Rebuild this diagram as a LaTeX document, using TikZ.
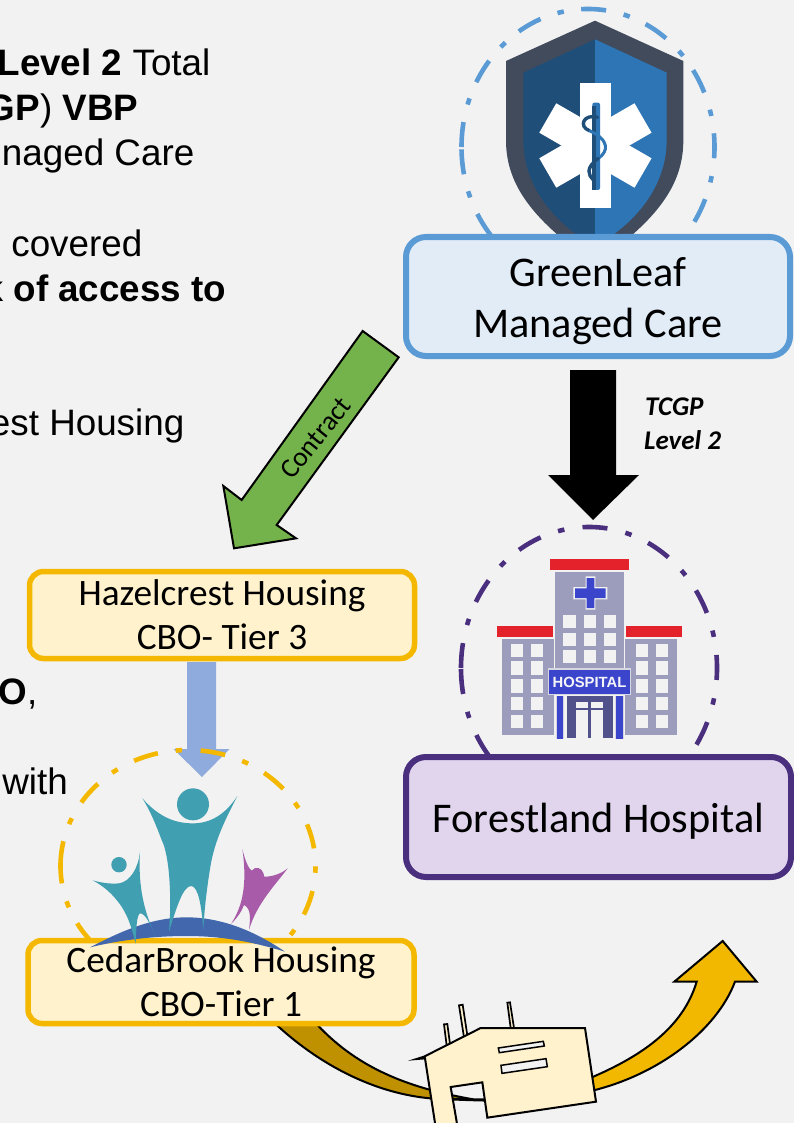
\documentclass[tikz,border=0pt]{standalone}
\usepackage{fontspec}
\setmainfont{Liberation Sans}
\newfontfamily\boxfont{Carlito}
\definecolor{pagebg}{HTML}{F2F2F2}
\definecolor{bluedge}{HTML}{5B9BD5}
\definecolor{bluefill}{HTML}{E1ECF7}
\definecolor{purpedge}{HTML}{4B2F7F}
\definecolor{purpfill}{HTML}{E1D5EE}
\definecolor{goldedge}{HTML}{F4B800}
\definecolor{goldfill}{HTML}{FFF2CC}
\definecolor{goldarrow}{HTML}{F2B800}
\definecolor{golddark}{HTML}{BF9000}
\definecolor{shieldout}{HTML}{414B5C}
\definecolor{shieldl}{HTML}{1F4E79}
\definecolor{shieldr}{HTML}{2E75B6}
\definecolor{leafgreen}{HTML}{74B34C}
\definecolor{periw}{HTML}{8FAADC}
\definecolor{teal}{HTML}{409FB0}
\definecolor{plum}{HTML}{A85BA8}
\definecolor{arcblue}{HTML}{4267AC}
\definecolor{hgray}{HTML}{9C9CBC}
\definecolor{hred}{HTML}{E3222B}
\definecolor{hblue}{HTML}{3A45CC}
\definecolor{hdoor}{HTML}{51528C}
\tikzset{
  bodytext/.style={anchor=base east,inner sep=0pt,font=\fontsize{36.8}{44}\selectfont},
  bigbox/.style={draw,line width=6pt,rounded corners=20pt,align=center,inner sep=0pt,
    font=\boxfont\fontsize{42.3}{51}\selectfont},
  tierbox/.style={draw=goldedge,fill=goldfill,line width=5.5pt,rounded corners=14pt,align=center,inner sep=0pt,
    font=\boxfont\fontsize{37.3}{44}\selectfont},
  ringline/.style={line width=4.6pt},
  blockout/.style={draw=black,line width=2pt,line join=miter},
  zoomA/.style={shift={(400,0)},x=0.33333pt,y=-0.33333pt},
  zoomB/.style={shift={(440,510)},x=0.33333pt,y=-0.33333pt},
  zoomC/.style={shift={(20,740)},x=0.33333pt,y=-0.33333pt},
  zoomD/.style={shift={(260,930)},x=0.33333pt,y=-0.33333pt},
  zoomE/.style={shift={(210,320)},x=0.33333pt,y=-0.33333pt},
  zoomF/.style={shift={(530,80)},x=0.33333pt,y=-0.33333pt},
}
\begin{document}
\begin{tikzpicture}[x=1pt,y=-1pt]
\useasboundingbox (0,0) rectangle (794,1123);
\fill[pagebg] (0,0) rectangle (794,1123);
\clip (0,0) rectangle (794,1123);

% left text
\node[bodytext] (t1) at (210.5,76) {\textbf{Level 2} Total};
\node[bodytext] (t2) at (138.5,121) {\textbf{GP}) \textbf{VBP}};
\node[bodytext] (t3) at (194.5,166) {naged Care};
\node[bodytext] (t4) at (142.5,256) {covered};
\node[bodytext] (t5) at (226.5,301) {k \textbf{of access to}};
\node[bodytext] (t6) at (184.5,435) {est Housing};
\node[bodytext] (t7) at (37.5,704) {\textbf{O},};
\node[bodytext] (t8) at (68,794) {with};

% blue ring and shield
\draw[ringline,bluedge,dash pattern=on 25pt off 18pt on 6.5pt off 17.5pt] (461.5,147) arc[start angle=180,delta angle=-360,x radius=126.5pt,y radius=138pt];
\begin{scope}[zoomA]
\fill[shieldout] (585,62) -- (850,183) -- (850,420) .. controls (850,540) and (790,650) .. (585,790)
  .. controls (380,650) and (318,540) .. (318,420) -- (318,183) -- cycle;
\fill[shieldl] (585,118) -- (370,218) -- (370,420) .. controls (370,530) and (430,650) .. (585,740) -- cycle;
\fill[shieldr] (585,118) -- (800,218) -- (800,420) .. controls (800,530) and (740,650) .. (585,740) -- cycle;
\end{scope}
\fill[white] (580,83) rectangle (611,208);
\fill[white,shift={(595.4,145.5)},rotate=60] (-17,-55) rectangle (17,55);
\fill[white,shift={(595.4,145.5)},rotate=-60] (-17,-55) rectangle (17,55);
\begin{scope}[zoomF]
\fill[shieldr,rounded corners=2pt] (187,68) rectangle (210,330);
\fill[shieldl] (187,78) rectangle (197,330);
\draw[shieldl,line width=3.4pt,line cap=round] (203,112) .. controls (160,100) and (145,140) .. (178,152);
\draw[shieldr,line width=3pt] (178,152) .. controls (240,180) and (235,215) .. (205,235);
\draw[shieldl,line width=3.4pt,line cap=round] (205,235) .. controls (165,265) and (175,285) .. (190,300);
\end{scope}

% GreenLeaf box
\node[bigbox,draw=bluedge,fill=bluefill,minimum width=384pt,minimum height=119pt] (green) at (598,296.5) {\raisebox{-15.5pt}[0pt][0pt]{GreenLeaf}\\\raisebox{-15.5pt}[0pt][0pt]{Managed Care}};

% black arrow
\fill[black] (570,370) -- (616,370) -- (616,475) -- (639,475) -- (593,520) -- (548,475) -- (570,475) -- cycle;
\node[anchor=base west,inner sep=0pt,font=\boxfont\bfseries\itshape\fontsize{27}{34}\selectfont,align=left] (tcgp) at (645,415) {TCGP};
\node[anchor=base west,inner sep=0pt,font=\boxfont\bfseries\itshape\fontsize{27}{34}\selectfont,align=left] (lvl) at (644,449) {Level 2};

% green arrow
\begin{scope}[zoomE]
\filldraw[blockout,fill=leafgreen] (458,33) -- (566,112) -- (200,615) -- (258,655) -- (72,685) -- (40,498) -- (95,540) -- cycle;
\end{scope}
\node[rotate=51,inner sep=0pt,font=\boxfont\fontsize{27.5}{34}\selectfont] (contract) at (315.5,438) {Contract};

% purple ring and hospital
\draw[ringline,purpedge,dash pattern=on 25pt off 18.5pt on 6.5pt off 18.3pt] (461,668) arc[start angle=180,delta angle=-360,x radius=128pt,y radius=141pt];
\begin{scope}[zoomB]
\fill[hred] (331,147) rectangle (566,181);
\fill[hred] (172,347) rectangle (338,381);
\fill[hred] (558,347) rectangle (726,381);
\fill[hgray] (346,187) rectangle (551,480);
\fill[hgray] (187,387) rectangle (342,676);
\fill[hgray] (556,387) rectangle (711,676);
\foreach \cx in {370,431,491} \foreach \ry in {315,369,421}
  \fill[pagebg] (\cx,\ry) rectangle ++(37,39);
\foreach \cx in {213,273,587,647} \foreach \ry in {401,454,508,561,614}
  \fill[pagebg] (\cx,\ry) rectangle ++(37,40);
\fill[pagebg] (437,199) -- (466,199) -- (466,231) -- (502,231) -- (502,268) -- (466,268) -- (466,299) -- (437,299) -- (437,268) -- (400,268) -- (400,231) -- (437,231) -- cycle;
\fill[hblue] (440,204) -- (463,204) -- (463,235) -- (497,235) -- (497,264) -- (463,264) -- (463,294) -- (440,294) -- (440,264) -- (405,264) -- (405,235) -- (440,235) -- cycle;
\fill[hgray!40] (323,474) rectangle (574,556);
\fill[hblue] (328,479) rectangle (569,551);
\fill[hgray!40] (347,557) rectangle (373,687);
\fill[hgray!40] (525,557) rectangle (551,687);
\fill[hblue] (350,558) rectangle (370,686);
\fill[hblue] (528,558) rectangle (548,686);
\fill[hdoor] (380,558) rectangle (520,683);
\fill[pagebg] (408,575) rectangle (445,595);
\fill[pagebg] (452,575) rectangle (488,595);
\fill[pagebg] (408,600) rectangle (445,683);
\fill[pagebg] (452,600) rectangle (488,683);
\end{scope}
\node[inner sep=0pt,text=white!90!hgray,font=\bfseries\fontsize{14.8}{16}\selectfont] (hosp) at (589.5,682) {HOSPITAL};
\node[bigbox,draw=purpedge,fill=purpfill,minimum width=385pt,minimum height=120pt] (forest) at (598.5,817) {\raisebox{-15pt}[0pt][0pt]{Forestland Hospital}};

% curved arrow
\begin{scope}[zoomD,line join=miter]
\filldraw[blockout,fill=goldarrow] (1388,33) -- (1490,155) -- (1425,155) .. controls (1370,300) and (1200,430) .. (1005,480)
  .. controls (860,520) and (700,515) .. (510,505) -- (640,508) .. controls (760,510) and (900,480) .. (1000,440)
  .. controls (1150,375) and (1270,290) .. (1310,155) -- (1243,155) -- cycle;
\filldraw[blockout,fill=golddark] (-30,200) .. controls (50,300) and (250,480) .. (510,505) -- (640,508)
  .. controls (420,470) and (270,400) .. (150,260) -- cycle;
\end{scope}

% boxes, left column
\node[tierbox,minimum width=385pt,minimum height=87pt] (hazel) at (222,615) {Hazelcrest Housing\\CBO- Tier 3};
\fill[periw] (187,662) -- (216,662) -- (216,749) -- (229.5,749) -- (202,777) -- (173.5,749) -- (187,749) -- cycle;
\draw[ringline,goldedge,dash pattern=on 25pt off 18pt on 6.5pt off 18.5pt] (60.5,866) arc[start angle=180,delta angle=-360,x radius=127.5pt,y radius=116pt];
\node[tierbox,minimum width=386pt,minimum height=83pt] (cedar) at (221,982) {};
\begin{scope}[zoomC]
\fill[arcblue] (210,622) .. controls (310,570) and (400,532) .. (500,532) .. controls (600,532) and (700,570) .. (795,635)
  .. controls (680,600) and (590,588) .. (500,588) .. controls (400,588) and (300,600) .. (210,622) -- cycle;
\fill[teal] (519,193) circle[radius=16pt];
\fill[teal] (367,175) .. controls (420,235) and (470,250) .. (519,250) .. controls (570,250) and (615,225) .. (652,168)
  .. controls (610,250) and (580,310) .. (568,400) .. controls (560,450) and (552,520) .. (550,570)
  .. controls (545,500) and (535,438) .. (513,438) .. controls (490,438) and (470,500) .. (447,575)
  .. controls (455,480) and (450,350) .. (425,300) .. controls (410,260) and (390,210) .. (367,175) -- cycle;
\fill[teal] (297,374) circle[radius=7.7pt];
\fill[teal] (218,421) .. controls (250,430) and (275,432) .. (297,430) .. controls (330,425) and (355,385) .. (360,335)
  .. controls (355,420) and (365,500) .. (405,585) .. controls (390,550) and (375,520) .. (360,520)
  .. controls (350,525) and (348,570) .. (347,612) .. controls (335,560) and (320,515) .. (290,480)
  .. controls (270,455) and (245,435) .. (218,421) -- cycle;
\fill[plum] (667,327) .. controls (675,360) and (685,385) .. (695,392) .. controls (705,378) and (728,380) .. (733,410)
  .. controls (760,410) and (785,400) .. (803,385) .. controls (770,430) and (710,490) .. (687,570)
  .. controls (692,530) and (692,505) .. (672,495) .. controls (665,515) and (650,535) .. (633,552)
  .. controls (660,510) and (685,450) .. (667,327) -- cycle;
\end{scope}
\node[inner sep=0pt,align=center,font=\boxfont\fontsize{37.3}{44}\selectfont] (cedartext) at (cedar.center) {CedarBrook Housing\\CBO-Tier 1};

% house shape
\begin{scope}[zoomD]
\filldraw[blockout,line width=1.7pt,fill=goldfill] (552,283) -- (562,282) -- (570,342) -- (560,347) -- cycle;
\filldraw[blockout,line width=1.7pt,fill=goldfill] (597,226) -- (608,224) -- (622,316) -- (612,322) -- cycle;
\filldraw[blockout,line width=1.7pt,fill=goldfill] (742,218) -- (750,217) -- (762,294) -- (752,294) -- cycle;
\filldraw[blockout,fill=goldfill] (470,387) -- (492,380) -- (662,294) -- (975,294) -- (1008,515) -- (682,563) -- (667,457)
  -- (572,471) -- (590,575) -- (592,600) -- (528,600) -- (525,579) -- (495,385) -- cycle;
\filldraw[blockout,fill=pagebg,line width=1.5pt] (715,354) -- (850,334) -- (853,348) -- (718,368) -- cycle;
\filldraw[blockout,fill=pagebg,line width=1.5pt] (723,406) -- (858,386) -- (862,410) -- (726,430) -- cycle;
\end{scope}
\end{tikzpicture}
\end{document}
